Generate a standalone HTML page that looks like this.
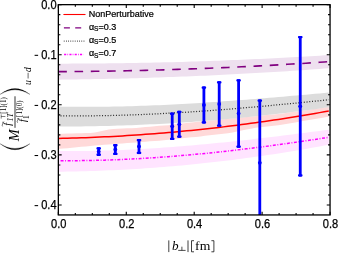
<!DOCTYPE html>
<html><head><meta charset="utf-8"><title>plot</title>
<style>
html,body{margin:0;padding:0;background:#fff;}
body{width:338px;height:253px;overflow:hidden;font-family:"Liberation Sans",sans-serif;}
svg{display:block;will-change:transform;}
text{font-family:"Liberation Sans",sans-serif;fill:#000;}
.ser{font-family:"Liberation Serif",serif;}
</style></head><body>
<svg width="338" height="253" viewBox="0 0 338 253">
<rect width="338" height="253" fill="#fff"/>
<defs><clipPath id="c"><rect x="58.4" y="4.7" width="271.7" height="210.3"/></clipPath></defs>
<g clip-path="url(#c)">
<path d="M58.4,133.90 L62.9,133.76 L67.5,133.62 L72.1,133.48 L76.7,133.34 L81.3,133.19 L85.9,133.05 L90.4,132.91 L95.0,132.58 L99.6,131.60 L104.2,130.50 L108.8,129.45 L113.4,129.07 L117.9,128.72 L122.5,128.40 L127.1,128.28 L131.7,128.16 L136.3,127.90 L140.9,127.49 L145.4,127.09 L150.0,126.68 L154.6,126.28 L159.2,125.87 L163.8,125.50 L168.4,125.13 L172.9,124.59 L177.5,123.95 L182.1,123.38 L186.7,122.90 L191.3,122.42 L195.9,121.93 L200.5,121.46 L205.0,121.01 L209.6,120.57 L214.2,120.13 L218.8,119.68 L223.4,119.24 L228.0,118.80 L232.5,118.36 L237.1,117.92 L241.7,117.48 L246.3,117.04 L250.9,116.60 L255.5,116.16 L260.0,115.72 L264.6,115.28 L269.2,114.84 L273.8,114.40 L278.4,113.96 L283.0,113.38 L287.5,112.73 L292.1,112.08 L296.7,111.44 L301.3,110.79 L305.9,110.14 L310.5,109.49 L315.0,108.84 L319.6,108.20 L324.2,107.55 L328.8,106.90 L328.8,116.62 L324.2,117.41 L319.6,118.19 L315.0,118.98 L310.5,119.77 L305.9,120.56 L301.3,121.34 L296.7,122.13 L292.1,122.92 L287.5,123.70 L283.0,124.49 L278.4,125.19 L273.8,125.74 L269.2,126.28 L264.6,126.74 L260.0,127.20 L255.5,127.71 L250.9,128.64 L246.3,129.58 L241.7,130.51 L237.1,131.45 L232.5,132.38 L228.0,133.14 L223.4,133.68 L218.8,134.22 L214.2,134.76 L209.6,135.30 L205.0,135.84 L200.5,136.38 L195.9,136.91 L191.3,137.34 L186.7,137.77 L182.1,138.20 L177.5,138.67 L172.9,139.18 L168.4,139.68 L163.8,140.18 L159.2,140.66 L154.6,141.00 L150.0,141.35 L145.4,141.69 L140.9,142.04 L136.3,142.38 L131.7,142.72 L127.1,143.07 L122.5,143.41 L117.9,143.75 L113.4,144.10 L108.8,144.44 L104.2,144.79 L99.6,145.13 L95.0,145.50 L90.4,145.96 L85.9,146.41 L81.3,146.87 L76.7,147.32 L72.1,147.74 L67.5,148.17 L62.9,148.59 L58.4,149.00Z" fill="#ffd9d9"/>
<path d="M58.4,63.64 L62.9,63.64 L67.5,63.63 L72.1,63.62 L76.7,63.61 L81.3,63.59 L85.9,63.56 L90.4,63.53 L95.0,63.50 L99.6,63.46 L104.2,63.41 L108.8,63.36 L113.4,63.31 L117.9,63.25 L122.5,63.18 L127.1,63.11 L131.7,63.04 L136.3,62.96 L140.9,62.87 L145.4,62.78 L150.0,62.69 L154.6,62.59 L159.2,62.48 L163.8,62.37 L168.4,62.26 L172.9,62.14 L177.5,62.01 L182.1,61.88 L186.7,61.75 L191.3,61.61 L195.9,61.46 L200.5,61.31 L205.0,61.16 L209.6,61.00 L214.2,60.83 L218.8,60.66 L223.4,60.49 L228.0,60.31 L232.5,60.12 L237.1,59.93 L241.7,59.74 L246.3,59.54 L250.9,59.33 L255.5,59.12 L260.0,58.90 L264.6,58.68 L269.2,58.46 L273.8,58.23 L278.4,57.99 L283.0,57.75 L287.5,57.51 L292.1,57.26 L296.7,57.00 L301.3,56.74 L305.9,56.48 L310.5,56.21 L315.0,55.93 L319.6,55.65 L324.2,55.37 L328.8,55.07 L328.8,68.28 L324.2,68.62 L319.6,68.95 L315.0,69.28 L310.5,69.60 L305.9,69.92 L301.3,70.23 L296.7,70.54 L292.1,70.84 L287.5,71.14 L283.0,71.43 L278.4,71.72 L273.8,72.00 L269.2,72.28 L264.6,72.55 L260.0,72.82 L255.5,73.08 L250.9,73.34 L246.3,73.60 L241.7,73.84 L237.1,74.09 L232.5,74.32 L228.0,74.56 L223.4,74.78 L218.8,75.01 L214.2,75.22 L209.6,75.44 L205.0,75.64 L200.5,75.85 L195.9,76.04 L191.3,76.24 L186.7,76.42 L182.1,76.61 L177.5,76.78 L172.9,76.96 L168.4,77.12 L163.8,77.29 L159.2,77.44 L154.6,77.60 L150.0,77.74 L145.4,77.89 L140.9,78.02 L136.3,78.16 L131.7,78.28 L127.1,78.41 L122.5,78.52 L117.9,78.64 L113.4,78.74 L108.8,78.85 L104.2,78.94 L99.6,79.04 L95.0,79.12 L90.4,79.20 L85.9,79.28 L81.3,79.35 L76.7,79.42 L72.1,79.48 L67.5,79.54 L62.9,79.59 L58.4,79.64Z" fill="#eee0ef"/>
<path d="M58.4,106.61 L62.9,106.69 L67.5,106.76 L72.1,106.81 L76.7,106.84 L81.3,106.86 L85.9,106.87 L90.4,106.86 L95.0,106.84 L99.6,106.80 L104.2,106.75 L108.8,106.68 L113.4,106.60 L117.9,106.51 L122.5,106.41 L127.1,106.29 L131.7,106.16 L136.3,106.02 L140.9,105.86 L145.4,105.70 L150.0,105.52 L154.6,105.33 L159.2,105.13 L163.8,104.92 L168.4,104.70 L172.9,104.47 L177.5,104.24 L182.1,103.99 L186.7,103.73 L191.3,103.46 L195.9,103.19 L200.5,102.90 L205.0,102.61 L209.6,102.31 L214.2,102.00 L218.8,101.69 L223.4,101.37 L228.0,101.04 L232.5,100.70 L237.1,100.36 L241.7,100.02 L246.3,99.66 L250.9,99.30 L255.5,98.94 L260.0,98.57 L264.6,98.20 L269.2,97.82 L273.8,97.44 L278.4,97.05 L283.0,96.66 L287.5,96.27 L292.1,95.87 L296.7,95.47 L301.3,95.07 L305.9,94.67 L310.5,94.26 L315.0,93.85 L319.6,93.44 L324.2,93.03 L328.8,92.62 L328.8,107.20 L324.2,107.85 L319.6,108.50 L315.0,109.13 L310.5,109.75 L305.9,110.36 L301.3,110.96 L296.7,111.54 L292.1,112.12 L287.5,112.68 L283.0,113.23 L278.4,113.77 L273.8,114.30 L269.2,114.82 L264.6,115.33 L260.0,115.83 L255.5,116.31 L250.9,116.79 L246.3,117.25 L241.7,117.70 L237.1,118.14 L232.5,118.57 L228.0,118.99 L223.4,119.39 L218.8,119.79 L214.2,120.17 L209.6,120.54 L205.0,120.90 L200.5,121.25 L195.9,121.59 L191.3,121.92 L186.7,122.23 L182.1,122.54 L177.5,122.83 L172.9,123.11 L168.4,123.38 L163.8,123.64 L159.2,123.89 L154.6,124.13 L150.0,124.35 L145.4,124.57 L140.9,124.77 L136.3,124.96 L131.7,125.14 L127.1,125.31 L122.5,125.47 L117.9,125.62 L113.4,125.75 L108.8,125.88 L104.2,125.99 L99.6,126.09 L95.0,126.18 L90.4,126.26 L85.9,126.33 L81.3,126.39 L76.7,126.43 L72.1,126.47 L67.5,126.49 L62.9,126.50 L58.4,126.50Z" fill="#dcdcdc"/>
<path d="M58.4,150.98 L62.9,151.03 L67.5,151.06 L72.1,151.07 L76.7,151.06 L81.3,151.03 L85.9,150.99 L90.4,150.92 L95.0,150.84 L99.6,150.74 L104.2,150.62 L108.8,150.48 L113.4,150.33 L117.9,150.16 L122.5,149.98 L127.1,149.77 L131.7,149.56 L136.3,149.32 L140.9,149.07 L145.4,148.81 L150.0,148.53 L154.6,148.24 L159.2,147.94 L163.8,147.62 L168.4,147.28 L172.9,146.94 L177.5,146.58 L182.1,146.21 L186.7,145.83 L191.3,145.44 L195.9,145.03 L200.5,144.61 L205.0,144.19 L209.6,143.75 L214.2,143.30 L218.8,142.84 L223.4,142.38 L228.0,141.90 L232.5,141.42 L237.1,140.92 L241.7,140.42 L246.3,139.91 L250.9,139.40 L255.5,138.87 L260.0,138.34 L264.6,137.80 L269.2,137.26 L273.8,136.71 L278.4,136.15 L283.0,135.59 L287.5,135.02 L292.1,134.45 L296.7,133.87 L301.3,133.29 L305.9,132.71 L310.5,132.12 L315.0,131.53 L319.6,130.94 L324.2,130.34 L328.8,129.74 L328.8,144.71 L324.2,145.58 L319.6,146.42 L315.0,147.26 L310.5,148.08 L305.9,148.89 L301.3,149.68 L296.7,150.46 L292.1,151.22 L287.5,151.97 L283.0,152.71 L278.4,153.43 L273.8,154.14 L269.2,154.84 L264.6,155.52 L260.0,156.19 L255.5,156.84 L250.9,157.48 L246.3,158.10 L241.7,158.71 L237.1,159.31 L232.5,159.89 L228.0,160.46 L223.4,161.02 L218.8,161.56 L214.2,162.09 L209.6,162.60 L205.0,163.10 L200.5,163.59 L195.9,164.06 L191.3,164.52 L186.7,164.96 L182.1,165.39 L177.5,165.81 L172.9,166.21 L168.4,166.60 L163.8,166.97 L159.2,167.33 L154.6,167.68 L150.0,168.01 L145.4,168.33 L140.9,168.63 L136.3,168.92 L131.7,169.20 L127.1,169.46 L122.5,169.71 L117.9,169.94 L113.4,170.16 L108.8,170.37 L104.2,170.56 L99.6,170.74 L95.0,170.91 L90.4,171.06 L85.9,171.19 L81.3,171.32 L76.7,171.43 L72.1,171.52 L67.5,171.60 L62.9,171.67 L58.4,171.72Z" fill="#ffe4ff"/>
<path d="M58.4,138.46 L62.9,138.36 L67.5,138.24 L72.1,138.12 L76.7,137.97 L81.3,137.82 L85.9,137.66 L90.4,137.48 L95.0,137.29 L99.6,137.08 L104.2,136.87 L108.8,136.64 L113.4,136.40 L117.9,136.14 L122.5,135.88 L127.1,135.60 L131.7,135.31 L136.3,135.01 L140.9,134.69 L145.4,134.36 L150.0,134.02 L154.6,133.67 L159.2,133.30 L163.8,132.92 L168.4,132.53 L172.9,132.13 L177.5,131.71 L182.1,131.29 L186.7,130.85 L191.3,130.39 L195.9,129.93 L200.5,129.45 L205.0,128.96 L209.6,128.45 L214.2,127.94 L218.8,127.41 L223.4,126.87 L228.0,126.32 L232.5,125.75 L237.1,125.17 L241.7,124.58 L246.3,123.98 L250.9,123.36 L255.5,122.74 L260.0,122.10 L264.6,121.44 L269.2,120.78 L273.8,120.10 L278.4,119.41 L283.0,118.70 L287.5,117.99 L292.1,117.26 L296.7,116.52 L301.3,115.77 L305.9,115.00 L310.5,114.22 L315.0,113.43 L319.6,112.63 L324.2,111.82 L328.8,110.99" fill="none" stroke="#ff0000" stroke-width="1.5"/>
<path d="M58.4,71.64 L62.9,71.62 L67.5,71.59 L72.1,71.55 L76.7,71.52 L81.3,71.47 L85.9,71.42 L90.4,71.37 L95.0,71.31 L99.6,71.25 L104.2,71.18 L108.8,71.11 L113.4,71.03 L117.9,70.94 L122.5,70.85 L127.1,70.76 L131.7,70.66 L136.3,70.56 L140.9,70.45 L145.4,70.34 L150.0,70.22 L154.6,70.09 L159.2,69.96 L163.8,69.83 L168.4,69.69 L172.9,69.55 L177.5,69.40 L182.1,69.24 L186.7,69.09 L191.3,68.92 L195.9,68.75 L200.5,68.58 L205.0,68.40 L209.6,68.22 L214.2,68.03 L218.8,67.83 L223.4,67.63 L228.0,67.43 L232.5,67.22 L237.1,67.01 L241.7,66.79 L246.3,66.57 L250.9,66.34 L255.5,66.10 L260.0,65.86 L264.6,65.62 L269.2,65.37 L273.8,65.12 L278.4,64.86 L283.0,64.59 L287.5,64.32 L292.1,64.05 L296.7,63.77 L301.3,63.49 L305.9,63.20 L310.5,62.90 L315.0,62.61 L319.6,62.30 L324.2,61.99 L328.8,61.68" fill="none" stroke="#800080" stroke-width="1.6" stroke-dasharray="8.6 7.68" stroke-dashoffset="0.15"/>
<path d="M58.4,115.79 L62.9,115.84 L67.5,115.87 L72.1,115.89 L76.7,115.89 L81.3,115.88 L85.9,115.86 L90.4,115.82 L95.0,115.77 L99.6,115.71 L104.2,115.63 L108.8,115.54 L113.4,115.43 L117.9,115.31 L122.5,115.18 L127.1,115.04 L131.7,114.89 L136.3,114.72 L140.9,114.54 L145.4,114.35 L150.0,114.15 L154.6,113.94 L159.2,113.72 L163.8,113.49 L168.4,113.24 L172.9,112.99 L177.5,112.72 L182.1,112.45 L186.7,112.17 L191.3,111.87 L195.9,111.57 L200.5,111.26 L205.0,110.94 L209.6,110.61 L214.2,110.27 L218.8,109.93 L223.4,109.58 L228.0,109.21 L232.5,108.85 L237.1,108.47 L241.7,108.09 L246.3,107.70 L250.9,107.30 L255.5,106.90 L260.0,106.49 L264.6,106.07 L269.2,105.65 L273.8,105.22 L278.4,104.79 L283.0,104.35 L287.5,103.91 L292.1,103.46 L296.7,103.01 L301.3,102.55 L305.9,102.09 L310.5,101.62 L315.0,101.15 L319.6,100.68 L324.2,100.20 L328.8,99.72" fill="none" stroke="#222" stroke-width="1.25" stroke-dasharray="0.95 1.82" stroke-dashoffset="-2.15"/>
<path d="M58.4,160.67 L62.9,160.70 L67.5,160.70 L72.1,160.69 L76.7,160.67 L81.3,160.62 L85.9,160.56 L90.4,160.48 L95.0,160.38 L99.6,160.26 L104.2,160.13 L108.8,159.99 L113.4,159.82 L117.9,159.64 L122.5,159.45 L127.1,159.23 L131.7,159.01 L136.3,158.76 L140.9,158.50 L145.4,158.23 L150.0,157.94 L154.6,157.64 L159.2,157.32 L163.8,156.99 L168.4,156.65 L172.9,156.29 L177.5,155.92 L182.1,155.53 L186.7,155.13 L191.3,154.72 L195.9,154.30 L200.5,153.86 L205.0,153.41 L209.6,152.95 L214.2,152.48 L218.8,151.99 L223.4,151.49 L228.0,150.99 L232.5,150.47 L237.1,149.94 L241.7,149.39 L246.3,148.84 L250.9,148.28 L255.5,147.71 L260.0,147.12 L264.6,146.53 L269.2,145.93 L273.8,145.32 L278.4,144.70 L283.0,144.07 L287.5,143.43 L292.1,142.78 L296.7,142.13 L301.3,141.46 L305.9,140.79 L310.5,140.11 L315.0,139.42 L319.6,138.73 L324.2,138.03 L328.8,137.32" fill="none" stroke="#ff00ff" stroke-width="1.5" stroke-dasharray="3 1.6 0.9 1.6" stroke-dashoffset="-2.15"/>
<g fill="#0000ff" stroke="none"><rect x="97.30" y="147.2" width="2.8" height="8.7"/><rect x="96.45" y="147.2" width="4.5" height="2.3" rx="0.8"/><rect x="96.45" y="153.6" width="4.5" height="2.3" rx="0.8"/><circle cx="98.7" cy="151.6" r="1.9"/></g>
<g fill="#0000ff" stroke="none"><rect x="113.90" y="144.1" width="2.8" height="10.9"/><rect x="113.05" y="144.1" width="4.5" height="2.3" rx="0.8"/><rect x="113.05" y="152.7" width="4.5" height="2.3" rx="0.8"/><circle cx="115.3" cy="149.5" r="1.9"/></g>
<g fill="#0000ff" stroke="none"><rect x="137.60" y="139.0" width="2.8" height="15.1"/><rect x="136.75" y="139.0" width="4.5" height="2.3" rx="0.8"/><rect x="136.75" y="151.8" width="4.5" height="2.3" rx="0.8"/><circle cx="139.0" cy="146.5" r="1.9"/></g>
<g fill="#0000ff" stroke="none"><rect x="170.80" y="112.6" width="2.8" height="27.4"/><rect x="169.95" y="112.6" width="4.5" height="2.3" rx="0.8"/><rect x="169.95" y="137.7" width="4.5" height="2.3" rx="0.8"/><circle cx="172.2" cy="126.3" r="1.9"/></g>
<g fill="#0000ff" stroke="none"><rect x="177.90" y="110.8" width="2.8" height="27.0"/><rect x="177.05" y="110.8" width="4.5" height="2.3" rx="0.8"/><rect x="177.05" y="135.5" width="4.5" height="2.3" rx="0.8"/><circle cx="179.3" cy="124.3" r="1.9"/></g>
<g fill="#0000ff" stroke="none"><rect x="202.50" y="86.4" width="2.8" height="37.2"/><rect x="201.65" y="86.4" width="4.5" height="2.3" rx="0.8"/><rect x="201.65" y="121.3" width="4.5" height="2.3" rx="0.8"/><circle cx="203.9" cy="105.0" r="1.9"/></g>
<g fill="#0000ff" stroke="none"><rect x="217.80" y="81.2" width="2.8" height="45.5"/><rect x="216.95" y="81.2" width="4.5" height="2.3" rx="0.8"/><rect x="216.95" y="124.4" width="4.5" height="2.3" rx="0.8"/><circle cx="219.2" cy="104.0" r="1.9"/></g>
<g fill="#0000ff" stroke="none"><rect x="237.20" y="79.3" width="2.8" height="68.5"/><rect x="236.35" y="79.3" width="4.5" height="2.3" rx="0.8"/><rect x="236.35" y="145.5" width="4.5" height="2.3" rx="0.8"/><circle cx="238.6" cy="113.5" r="1.9"/></g>
<g fill="#0000ff" stroke="none"><rect x="258.40" y="99.4" width="2.8" height="125.6"/><rect x="257.55" y="99.4" width="4.5" height="2.3" rx="0.8"/><rect x="257.55" y="222.7" width="4.5" height="2.3" rx="0.8"/><circle cx="259.8" cy="162.8" r="1.9"/></g>
<g fill="#0000ff" stroke="none"><rect x="298.85" y="36.0" width="2.8" height="140.6"/><rect x="298.00" y="36.0" width="4.5" height="2.3" rx="0.8"/><rect x="298.00" y="174.3" width="4.5" height="2.3" rx="0.8"/><circle cx="300.2" cy="106.3" r="1.9"/></g>
</g>
<rect x="58.35" y="4.65" width="271.7" height="210.3" fill="none" stroke="#000" stroke-width="1.3"/>
<path d="M58.35,215.0v-3.3M58.35,4.65v3.3M75.33,215.0v-2.0M75.33,4.65v2.0M92.31,215.0v-2.0M92.31,4.65v2.0M109.29,215.0v-2.0M109.29,4.65v2.0M126.28,215.0v-3.3M126.28,4.65v3.3M143.26,215.0v-2.0M143.26,4.65v2.0M160.24,215.0v-2.0M160.24,4.65v2.0M177.22,215.0v-2.0M177.22,4.65v2.0M194.20,215.0v-3.3M194.20,4.65v3.3M211.18,215.0v-2.0M211.18,4.65v2.0M228.16,215.0v-2.0M228.16,4.65v2.0M245.14,215.0v-2.0M245.14,4.65v2.0M262.12,215.0v-3.3M262.12,4.65v3.3M279.11,215.0v-2.0M279.11,4.65v2.0M296.09,215.0v-2.0M296.09,4.65v2.0M313.07,215.0v-2.0M313.07,4.65v2.0M330.05,215.0v-3.3M330.05,4.65v3.3M58.35,4.65h3.3M330.05,4.65h-3.3M58.35,14.67h2.0M330.05,14.67h-2.0M58.35,24.68h2.0M330.05,24.68h-2.0M58.35,34.70h2.0M330.05,34.70h-2.0M58.35,44.72h2.0M330.05,44.72h-2.0M58.35,54.74h3.3M330.05,54.74h-3.3M58.35,64.75h2.0M330.05,64.75h-2.0M58.35,74.77h2.0M330.05,74.77h-2.0M58.35,84.79h2.0M330.05,84.79h-2.0M58.35,94.81h2.0M330.05,94.81h-2.0M58.35,104.82h3.3M330.05,104.82h-3.3M58.35,114.84h2.0M330.05,114.84h-2.0M58.35,124.86h2.0M330.05,124.86h-2.0M58.35,134.88h2.0M330.05,134.88h-2.0M58.35,144.89h2.0M330.05,144.89h-2.0M58.35,154.91h3.3M330.05,154.91h-3.3M58.35,164.93h2.0M330.05,164.93h-2.0M58.35,174.95h2.0M330.05,174.95h-2.0M58.35,184.96h2.0M330.05,184.96h-2.0M58.35,194.98h2.0M330.05,194.98h-2.0M58.35,205.00h3.3M330.05,205.00h-3.3" stroke="#000" stroke-width="1.1" fill="none"/>
<text x="51.1" y="228.3" font-size="12.2" stroke="#000" stroke-width="0.25" textLength="15.4" lengthAdjust="spacingAndGlyphs">0.0</text>
<text x="119.0" y="228.3" font-size="12.2" stroke="#000" stroke-width="0.25" textLength="15.4" lengthAdjust="spacingAndGlyphs">0.2</text>
<text x="186.9" y="228.3" font-size="12.2" stroke="#000" stroke-width="0.25" textLength="15.4" lengthAdjust="spacingAndGlyphs">0.4</text>
<text x="254.8" y="228.3" font-size="12.2" stroke="#000" stroke-width="0.25" textLength="15.4" lengthAdjust="spacingAndGlyphs">0.6</text>
<text x="322.8" y="228.3" font-size="12.2" stroke="#000" stroke-width="0.25" textLength="15.4" lengthAdjust="spacingAndGlyphs">0.8</text>
<text x="41.2" y="8.6" font-size="12.2" stroke="#000" stroke-width="0.25" textLength="15.4" lengthAdjust="spacingAndGlyphs">0.0</text>
<text x="41.2" y="58.6" font-size="12.2" stroke="#000" stroke-width="0.25" textLength="15.4" lengthAdjust="spacingAndGlyphs">0.1</text>
<rect x="34.6" y="54.8" width="3.5" height="1.05" fill="#000"/>
<text x="41.2" y="108.7" font-size="12.2" stroke="#000" stroke-width="0.25" textLength="15.4" lengthAdjust="spacingAndGlyphs">0.2</text>
<rect x="34.6" y="104.9" width="3.5" height="1.05" fill="#000"/>
<text x="41.2" y="158.8" font-size="12.2" stroke="#000" stroke-width="0.25" textLength="15.4" lengthAdjust="spacingAndGlyphs">0.3</text>
<rect x="34.6" y="155.0" width="3.5" height="1.05" fill="#000"/>
<text x="41.2" y="208.9" font-size="12.2" stroke="#000" stroke-width="0.25" textLength="15.4" lengthAdjust="spacingAndGlyphs">0.4</text>
<rect x="34.6" y="205.1" width="3.5" height="1.05" fill="#000"/>
<path d="M63.4,14.5H85.5" stroke="#ff0000" stroke-width="1.1"/>
<path d="M63.9,27.9H85.5" stroke="#800080" stroke-width="1.35" stroke-dasharray="6 5.3"/>
<path d="M63.8,41.1H84.6" stroke="#333" stroke-width="1.1" stroke-dasharray="0.75 1.45"/>
<path d="M64.1,54.5H83.4" stroke="#ff00ff" stroke-width="1.4" stroke-dasharray="2.1 1.2 0.7 1.3"/>
<text x="88.8" y="16.5" font-size="9" stroke="#000" stroke-width="0.22">NonPerturbative</text>
<text x="88.9" y="29.7" font-size="9" stroke="#000" stroke-width="0.22">α<tspan font-size="6.6" dy="1.6">S</tspan><tspan dy="-1.6" dx="-0.1">=0.3</tspan></text>
<text x="88.9" y="42.8" font-size="9" stroke="#000" stroke-width="0.22">α<tspan font-size="6.6" dy="1.6">S</tspan><tspan dy="-1.6" dx="-0.1">=0.5</tspan></text>
<text x="88.9" y="56.3" font-size="9" stroke="#000" stroke-width="0.22">α<tspan font-size="6.6" dy="1.6">S</tspan><tspan dy="-1.6" dx="-0.1">=0.7</tspan></text>
<g><path d="M168.8,240.4V252.1M188,240.4V252.1" stroke="#000" stroke-width="0.75" fill="none"/><text class="ser" font-style="italic" x="172" y="249.7" font-size="13.2">b</text><path d="M178.2,250.4H185.6M181.9,246.7V250.4" stroke="#000" stroke-width="0.7" fill="none"/><path d="M194,240.7H191.5V251.8H194" stroke="#000" stroke-width="0.75" fill="none"/><path d="M211.4,240.7H213.9V251.8H211.4" stroke="#000" stroke-width="0.75" fill="none"/><text class="ser" x="195.1" y="249.7" font-size="13" textLength="15.2" lengthAdjust="spacingAndGlyphs">fm</text></g>
<g><path d="M0,94.4Q15,82.8 30,94.4Q15,85.3 0,94.4Z" fill="#000" stroke="#000" stroke-width="0.2"/><path d="M0,143.7Q15,155.9 30,143.7Q15,153.3 0,143.7Z" fill="#000" stroke="#000" stroke-width="0.2"/><path d="M15,96.3V127.8" stroke="#000" stroke-width="0.8"/><text class="ser" font-style="italic" font-size="14.4" transform="translate(19.2,141.2) rotate(-90)">M</text><text class="ser" font-style="italic" font-size="9.6" transform="translate(30.5,84.9) rotate(-90)">u</text><path d="M28.1,78.5V72.8" stroke="#000" stroke-width="0.6"/><text class="ser" font-style="italic" font-size="9.6" transform="translate(30.5,71.9) rotate(-90)">d</text><text class="ser" font-style="italic" font-size="10.5" transform="translate(10.5,125.8) rotate(-90)">f</text><path d="M2.6,126.4q-0.9,-1.2 0,-2.3t0,-2.3" stroke="#000" stroke-width="0.55" fill="none"/><text class="ser" font-style="italic" font-size="7.2" transform="translate(13.4,121.6) rotate(-90)" textLength="8.6" lengthAdjust="spacingAndGlyphs">1T</text><path d="M1.2,118.6v-4.2M1.2,116.5h4.2" stroke="#000" stroke-width="0.5" fill="none"/><text class="ser" font-size="7.4" transform="translate(6.0,113.7) rotate(-90)" textLength="16.5" lengthAdjust="spacingAndGlyphs">[1](1)</text><text class="ser" font-style="italic" font-size="10.5" transform="translate(26.0,122.1) rotate(-90)">f</text><path d="M17.6,122.7q-0.9,-1.2 0,-2.3t0,-2.3" stroke="#000" stroke-width="0.55" fill="none"/><text class="ser" font-size="7.2" transform="translate(28.8,119.0) rotate(-90)">1</text><text class="ser" font-size="7.4" transform="translate(21.5,116.9) rotate(-90)" textLength="16.5" lengthAdjust="spacingAndGlyphs">[1](0)</text></g>
</svg></body></html>
